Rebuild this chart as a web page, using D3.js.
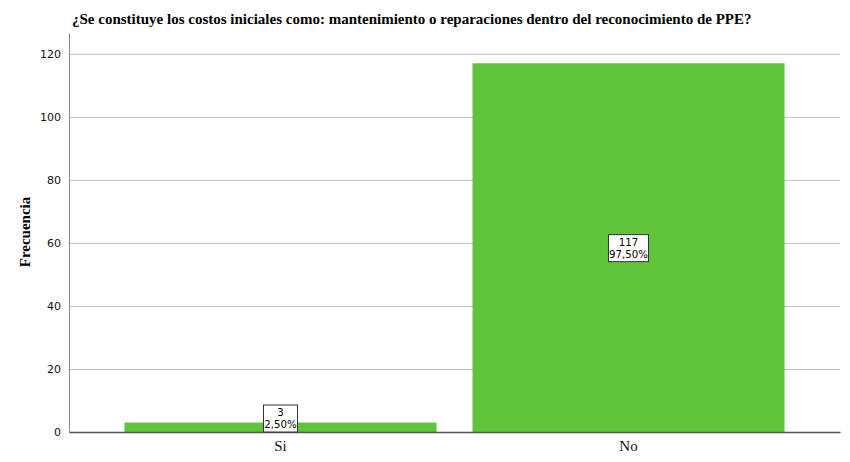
<!DOCTYPE html>
<html>
<head>
<meta charset="utf-8">
<script src="https://cdn.jsdelivr.net/npm/d3@7"></script>
<style>
  body { margin: 0; background: #fff; }
  svg { display: block; }
</style>
</head>
<body>
<svg width="850" height="462"></svg>
<script>
const categories = ["Si", "No"];
const counts = [3, 117];
const percents = ["2,50%", "97,50%"];
const yTicks = [0, 20, 40, 60, 80, 100, 120];

const svg = d3.select("svg");

const margin = {top: 33, right: 10, bottom: 30, left: 69},
      width = 850 - margin.left - margin.right,
      height = 462 - margin.top - margin.bottom;

const g = svg.append("g")
    .attr("transform", `translate(${margin.left},${margin.top})`);

const x = d3.scaleBand()
    .domain(categories)
    .range([0, width])
    .paddingInner(0.1034)
    .paddingOuter(0.1595);

const y = d3.scaleLinear()
    .domain([0, 126.6])
    .range([height, 0]);

// gridlines
g.selectAll(".grid")
    .data(yTicks.filter(d => d > 0))
    .enter().append("line")
    .attr("x1", 0)
    .attr("x2", width)
    .attr("y1", d => y(d) + 0.5)
    .attr("y2", d => y(d) + 0.5)
    .attr("stroke", "#c0c0c0")
    .attr("stroke-width", 1);

g.selectAll(".bar")
    .data(categories)
    .enter().append("rect")
    .attr("x", d => x(d))
    .attr("y", (d, i) => y(counts[i]))
    .attr("width", x.bandwidth())
    .attr("height", (d, i) => height - y(counts[i]))
    .attr("fill", "#5fc43a");

// y axis
const yAxis = g.append("g")
    .call(d3.axisLeft(y).tickValues(yTicks).tickSize(0).tickPadding(8));
yAxis.select(".domain").attr("stroke", "#888");
yAxis.selectAll("text")
    .attr("font-family", "'DejaVu Sans', sans-serif")
    .attr("font-size", 11)
    .attr("fill", "#111");

// x axis
const xAxis = g.append("g")
    .attr("transform", `translate(0,${height})`)
    .call(d3.axisBottom(x).tickSize(0).tickPadding(8));
xAxis.select(".domain").attr("stroke", "#555").attr("stroke-width", 1.5);
xAxis.selectAll("text")
    .attr("font-family", "'Liberation Serif', serif")
    .attr("font-size", 15)
    .attr("fill", "#111");

// value labels
const labels = g.selectAll(".lab")
    .data(categories)
    .enter().append("g")
    .attr("transform", (d, i) => {
        const cx = x(d) + x.bandwidth() / 2;
        const cy = Math.min(y(counts[i] / 2), height - 14);
        return `translate(${cx},${cy})`;
    });

labels.append("rect")
    .attr("x", (d, i) => -(percents[i].length * 3 + 2))
    .attr("y", -13)
    .attr("width", (d, i) => 2 * (percents[i].length * 3 + 2))
    .attr("height", 27)
    .attr("fill", "#fff")
    .attr("stroke", "#333")
    .attr("stroke-width", 1);

labels.append("text")
    .attr("text-anchor", "middle")
    .attr("y", -2)
    .attr("font-family", "'DejaVu Sans', sans-serif")
    .attr("font-size", 10.2)
    .text((d, i) => counts[i]);

labels.append("text")
    .attr("text-anchor", "middle")
    .attr("y", 10)
    .attr("font-family", "'DejaVu Sans', sans-serif")
    .attr("font-size", 10.2)
    .text((d, i) => percents[i]);

// title
svg.append("text")
    .attr("x", 72)
    .attr("y", 24)
    .attr("font-family", "'Liberation Serif', serif")
    .attr("font-weight", "bold")
    .attr("font-size", 15)
    .text("¿Se constituye los costos iniciales como: mantenimiento o reparaciones dentro del reconocimiento de PPE?");

// y label
svg.append("text")
    .attr("transform", "translate(30,232) rotate(-90)")
    .attr("text-anchor", "middle")
    .attr("font-family", "'Liberation Serif', serif")
    .attr("font-weight", "bold")
    .attr("font-size", 15)
    .text("Frecuencia");
</script>
</body>
</html>
